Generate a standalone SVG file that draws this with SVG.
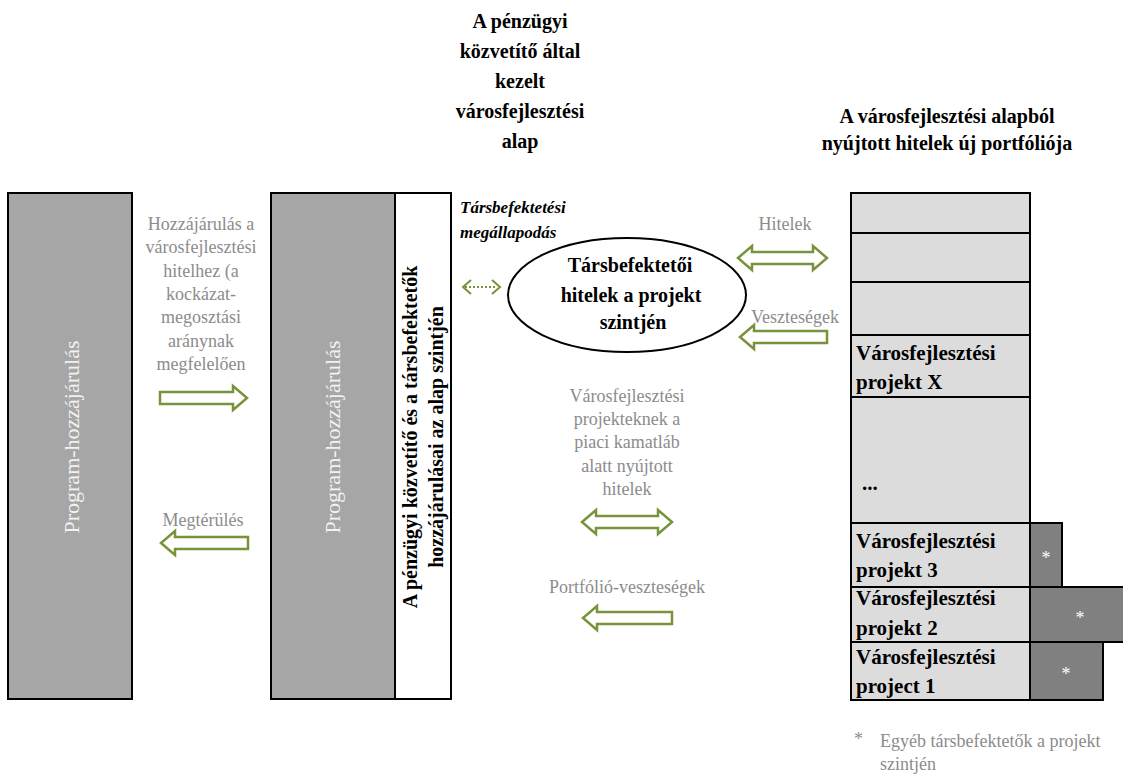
<svg xmlns="http://www.w3.org/2000/svg" width="1123" height="774" viewBox="0 0 1123 774">
<style>
text{font-family:"Liberation Serif","DejaVu Serif",serif}
.t{font-weight:bold;fill:#000;font-size:20px;text-anchor:middle}
.g{fill:#8c8c8c;font-size:18px;text-anchor:middle}
.gs{fill:#8c8c8c;font-size:18px;text-anchor:start}
.w{fill:#f2f2f2;font-size:22px;text-anchor:middle}
.box{fill:#a6a6a6;stroke:#000;stroke-width:2}
.cell{fill:#dcdcdc;stroke:#000;stroke-width:2}
.dk{fill:#808080;stroke:#000;stroke-width:2}
.lb{font-weight:bold;font-size:21px;fill:#000}
.ar{fill:#fff;stroke:#77933c;stroke-width:2.5;stroke-linejoin:miter}
.star{fill:#fff;font-size:18px;text-anchor:middle}
</style>
<rect width="1123" height="774" fill="#fff"/>
<g id="title-fund">
<text class="t" x="520" y="28">A pénzügyi</text>
<text class="t" x="520" y="58">közvetítő által</text>
<text class="t" x="520" y="88">kezelt</text>
<text class="t" x="520" y="118">városfejlesztési</text>
<text class="t" x="520" y="148">alap</text>
</g>
<g id="title-portfolio">
<text class="t" x="947" y="123">A városfejlesztési alapból</text>
<text class="t" x="947" y="150">nyújtott hitelek új portfóliója</text>
</g>
<g id="program">
<rect class="box" x="8" y="193" width="124" height="506"/>
<text class="w" transform="translate(79,437) rotate(-90)">Program-hozzájárulás</text>
</g>
<g id="fund">
<rect class="box" x="271" y="193" width="124" height="506"/>
<rect x="395" y="193" width="56" height="506" fill="#fff" stroke="#000" stroke-width="2"/>
<line x1="395" y1="193" x2="395" y2="699" stroke="#000" stroke-width="2" stroke-dasharray="4,2"/>
<rect x="271" y="193" width="180" height="506" fill="none" stroke="#000" stroke-width="2"/>
<text class="w" transform="translate(340,437) rotate(-90)">Program-hozzájárulás</text>
<text class="t" transform="translate(417,437) rotate(-90)">A pénzügyi közvetítő és a társbefektetők</text>
<text class="t" transform="translate(443,437) rotate(-90)">hozzájárulásai az alap szintjén</text>
</g>
<g id="agreement">
<text x="460" y="213" font-weight="bold" font-style="italic" font-size="17">Társbefektetési</text>
<text x="460" y="238" font-weight="bold" font-style="italic" font-size="17">megállapodás</text>
</g>
<g id="coinvest">
<ellipse cx="627" cy="295" rx="119" ry="57" fill="#fff" stroke="#000" stroke-width="2"/>
<text class="t" x="630" y="272" font-size="22">Társbefektetői</text>
<text class="t" x="631" y="302" font-size="22">hitelek a projekt</text>
<text class="t" x="633" y="329" font-size="22">szintjén</text>
</g>
<g id="portfolio">
<rect class="cell" x="851" y="193" width="179" height="40"/>
<rect class="cell" x="851" y="233" width="179" height="49"/>
<rect class="cell" x="851" y="282" width="179" height="53"/>
<rect class="cell" x="851" y="335" width="179" height="62"/>
<rect class="cell" x="851" y="397" width="179" height="126"/>
<rect class="cell" x="851" y="523" width="179" height="64"/>
<rect class="cell" x="851" y="587" width="179" height="55"/>
<rect class="cell" x="851" y="642" width="179" height="58"/>
<text class="lb" x="856" y="360">Városfejlesztési</text>
<text class="lb" x="856" y="389">projekt X</text>
<text class="lb" x="862" y="490">...</text>
<text class="lb" x="856" y="548">Városfejlesztési</text>
<text class="lb" x="856" y="577">projekt 3</text>
<text class="lb" x="856" y="605">Városfejlesztési</text>
<text class="lb" x="856" y="635">projekt 2</text>
<text class="lb" x="856" y="664">Városfejlesztési</text>
<text class="lb" x="856" y="693">project 1</text>
</g>
<g id="others">
<rect class="dk" x="1030" y="523" width="32" height="64"/>
<rect class="dk" x="1030" y="587" width="95" height="55"/>
<rect class="dk" x="1030" y="642" width="73" height="58"/>
<text class="star" x="1046" y="564">*</text>
<text class="star" x="1080" y="624">*</text>
<text class="star" x="1066" y="680">*</text>
</g>
<g id="labels">
<text class="g" x="201" y="230">Hozzájárulás a</text>
<text class="g" x="201" y="253">városfejlesztési</text>
<text class="g" x="201" y="277">hitelhez (a</text>
<text class="g" x="201" y="300">kockázat-</text>
<text class="g" x="201" y="323">megosztási</text>
<text class="g" x="201" y="347">aránynak</text>
<text class="g" x="201" y="370">megfelelően</text>
<text class="g" x="203" y="526">Megtérülés</text>
<text class="g" x="785" y="230">Hitelek</text>
<text class="g" x="795" y="323">Veszteségek</text>
<text class="g" x="627" y="402">Városfejlesztési</text>
<text class="g" x="627" y="425">projekteknek a</text>
<text class="g" x="627" y="448">piaci kamatláb</text>
<text class="g" x="627" y="472">alatt nyújtott</text>
<text class="g" x="627" y="495">hitelek</text>
<text class="g" x="627" y="593">Portfólió-veszteségek</text>
<text class="gs" x="854" y="745">*</text>
<text class="gs" x="880" y="747">Egyéb társbefektetők a projekt</text>
<text class="gs" x="880" y="770">szintjén</text>
</g>
<g id="connectors">
<path class="ar" d="M160,392 H233 V386 L247,398 L233,410 V404 H160 Z"/>
<path class="ar" d="M248,537 H175 V531 L161,543 L175,555 V549 H248 Z"/>
<path class="ar" d="M738,258 L752,246 V252 H813 V246 L827,258 L813,270 V264 H752 V270 Z"/>
<path class="ar" d="M827,331 H754 V325 L740,337 L754,349 V343 H827 Z"/>
<path class="ar" d="M582,522 L596,510 V516 H658 V510 L672,522 L658,534 V528 H596 V534 Z"/>
<path class="ar" d="M672,612 H597 V606 L583,618 L597,630 V624 H672 Z"/>
<g fill="none" stroke="#77933c" stroke-width="2">
<line x1="465" y1="287" x2="497" y2="287" stroke-dasharray="2,2"/>
<polyline points="471,280 463,287 471,294"/>
<polyline points="492,280 500,287 492,294"/>
</g>
</g>
</svg>
